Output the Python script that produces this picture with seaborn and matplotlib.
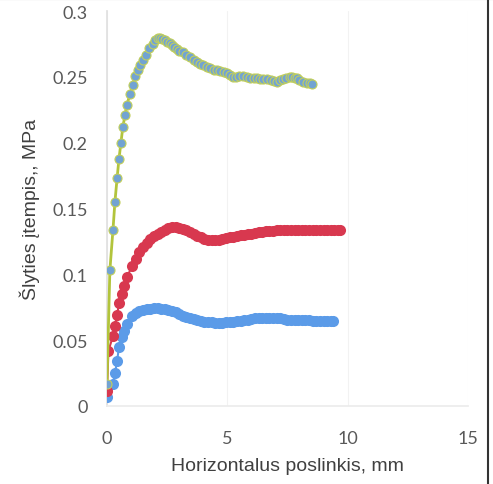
import numpy as np
import pandas as pd
import matplotlib
matplotlib.use("Agg")
import matplotlib.pyplot as plt
import seaborn as sns
from matplotlib.lines import Line2D

# Data (x in mm, y in MPa)
x_top = [0.0, 0.12, 0.25, 0.33, 0.42, 0.50, 0.58, 0.66, 0.75, 0.83, 0.96, 1.08, 1.16, 1.29, 1.37,
         1.50, 1.62, 1.74, 1.91, 2.00, 2.12, 2.2, 2.3, 2.4, 2.5, 2.6, 2.7, 2.8, 2.9, 3.0, 3.16,
         3.3, 3.45, 3.6, 3.75, 3.86, 4.0, 4.15, 4.3, 4.45, 4.57, 4.7, 4.85, 5.0, 5.1, 5.23, 5.35,
         5.5, 5.65, 5.8, 5.95, 6.1, 6.23, 6.35, 6.5, 6.65, 6.8, 6.95, 7.06, 7.2, 7.31, 7.45, 7.6,
         7.69, 7.8, 7.89, 8.0, 8.14, 8.3, 8.42, 8.52]
y_top = [0.017, 0.103, 0.134, 0.155, 0.173, 0.188, 0.200, 0.212, 0.221, 0.229, 0.237, 0.244, 0.251,
         0.255, 0.259, 0.263, 0.267, 0.272, 0.275, 0.278, 0.2796, 0.2795, 0.279, 0.278, 0.2768,
         0.2755, 0.274, 0.2725, 0.271, 0.270, 0.269, 0.267, 0.2648, 0.263, 0.261, 0.260, 0.2588,
         0.2575, 0.2565, 0.2555, 0.255, 0.2545, 0.2538, 0.253, 0.2515, 0.250, 0.2502, 0.2508,
         0.251, 0.2503, 0.2495, 0.2492, 0.249, 0.2488, 0.2487, 0.2485, 0.2478, 0.2468, 0.246,
         0.2475, 0.2485, 0.2492, 0.2498, 0.250, 0.2495, 0.249, 0.2475, 0.246, 0.2455, 0.2452, 0.2447]

x_red = [0.0, 0.06, 0.25, 0.33, 0.42, 0.50, 0.62, 0.71, 0.83, 1.04, 1.2, 1.35, 1.5, 1.65, 1.8, 1.95,
         2.1, 2.25, 2.4, 2.55, 2.7, 2.85, 3.0, 3.15, 3.3, 3.45, 3.6, 3.75, 3.9, 4.05, 4.2, 4.35,
         4.5, 4.65, 4.8, 4.95, 5.1, 5.25, 5.4, 5.55, 5.7, 5.85, 6.0, 6.15, 6.3, 6.45, 6.6, 6.75,
         6.9, 7.05, 7.2, 7.35, 7.5, 7.65, 7.8, 7.95, 8.1, 8.25, 8.4, 8.55, 8.7, 8.85, 9.0, 9.15,
         9.3, 9.45, 9.6, 9.7]
y_red = [0.011, 0.042, 0.053, 0.061, 0.069, 0.078, 0.085, 0.091, 0.098, 0.106, 0.112, 0.117, 0.121,
         0.124, 0.1265, 0.129, 0.131, 0.1325, 0.134, 0.135, 0.1357, 0.136, 0.1355, 0.1345, 0.1333,
         0.132, 0.1305, 0.129, 0.128, 0.127, 0.1262, 0.1258, 0.1258, 0.1262, 0.1268, 0.1274, 0.128,
         0.1285, 0.129, 0.1295, 0.130, 0.1305, 0.131, 0.1315, 0.132, 0.1323, 0.1327, 0.133, 0.1332,
         0.1334, 0.1335, 0.1336, 0.1337, 0.1338, 0.1338, 0.1339, 0.1339, 0.134, 0.134, 0.134,
         0.134, 0.1339, 0.1339, 0.1338, 0.1338, 0.1337, 0.1336, 0.1335]

x_blue = [0.0, 0.25, 0.33, 0.42, 0.50, 0.62, 0.71, 0.83, 1.04, 1.2, 1.35, 1.5, 1.65, 1.8, 1.95, 2.1,
          2.25, 2.4, 2.55, 2.7, 2.85, 3.0, 3.15, 3.3, 3.45, 3.6, 3.75, 3.9, 4.05, 4.2, 4.35, 4.5,
          4.65, 4.8, 4.95, 5.1, 5.25, 5.4, 5.55, 5.7, 5.85, 6.0, 6.15, 6.3, 6.45, 6.6, 6.75, 6.9,
          7.05, 7.2, 7.35, 7.5, 7.65, 7.8, 7.95, 8.1, 8.25, 8.4, 8.55, 8.7, 8.85, 9.0, 9.15, 9.3, 9.4]
y_blue = [0.007, 0.017, 0.025, 0.034, 0.045, 0.052, 0.057, 0.062, 0.068, 0.0705, 0.0718, 0.0728,
          0.0735, 0.074, 0.0742, 0.0742, 0.074, 0.0735, 0.0728, 0.072, 0.071, 0.0698, 0.0685,
          0.0675, 0.0665, 0.0658, 0.0652, 0.0646, 0.0641, 0.0637, 0.0634, 0.0632, 0.0631, 0.0632,
          0.0634, 0.0636, 0.0639, 0.0643, 0.0647, 0.065, 0.0655, 0.066, 0.0665, 0.0668, 0.067,
          0.067, 0.0668, 0.0667, 0.0668, 0.0665, 0.066, 0.0655, 0.0653, 0.0655, 0.0656, 0.0655,
          0.0652, 0.065, 0.0648, 0.0647, 0.0646, 0.0647, 0.0647, 0.0646, 0.0646]

x_ticks = [0, 5, 10, 15]
y_ticks = [0, 0.05, 0.1, 0.15, 0.2, 0.25, 0.3]
y_tick_labels = ["0", "0.05", "0.1", "0.15", "0.2", "0.25", "0.3"]

sns.set_theme(style="white")
plt.rcParams['font.family'] = ['Liberation Sans', 'DejaVu Sans']

fig = plt.figure(figsize=(4.93, 4.85), dpi=100)
ax = fig.add_axes([0.217, 0.161, 0.732, 0.814])

# lower blue series
sns.lineplot(x=x_blue, y=y_blue, ax=ax, sort=False, estimator=None, color='#5b9be8',
             linewidth=1.5, marker='o', markersize=8, markeredgewidth=0, zorder=3)
# red series
sns.lineplot(x=x_red, y=y_red, ax=ax, sort=False, estimator=None, color='#d8384f',
             linewidth=1.5, marker='o', markersize=8, markeredgewidth=0, zorder=3)
# top series: yellow-green line, blue markers
sns.lineplot(x=x_top, y=y_top, ax=ax, sort=False, estimator=None, color='#b2c43c',
             linewidth=2, marker='o', markersize=6.5, markerfacecolor='#72a3d2',
             markeredgecolor='#c2cf5a', markeredgewidth=0.8, zorder=4)

ax.set_xlim(0, 15)
ax.set_ylim(0, 0.3)
ax.set_xticks(x_ticks)
ax.set_yticks(y_ticks)
ax.set_yticklabels(y_tick_labels)
ax.tick_params(axis='both', length=0, labelsize=13, labelcolor='#595959', pad=14)
ax.tick_params(axis='x', pad=17)
for lab in ax.get_xticklabels() + ax.get_yticklabels():
    lab.set_family(['Lato', 'DejaVu Sans'])

ax.grid(axis='x', color='#f2f2f2', linewidth=0.8)
ax.set_axisbelow(True)
for side in ['top', 'right']:
    ax.spines[side].set_visible(False)
ax.spines['left'].set_color('#e0e0e0')
ax.spines['bottom'].set_color('#ececec')

ax.set_xlabel('Horizontalus poslinkis, mm', fontsize=14, color='#404040', labelpad=8)
ax.set_ylabel('Šlyties įtempis,, MPa', fontsize=14, color='#404040', labelpad=9)

# scan frame edges
fig.add_artist(Line2D([0, 1], [0.999, 0.999], color='#999999', linewidth=1.5))
fig.add_artist(Line2D([0.989, 0.989], [0, 1], color='#333333', linewidth=1.5))

fig.savefig('out.png', dpi=100)
